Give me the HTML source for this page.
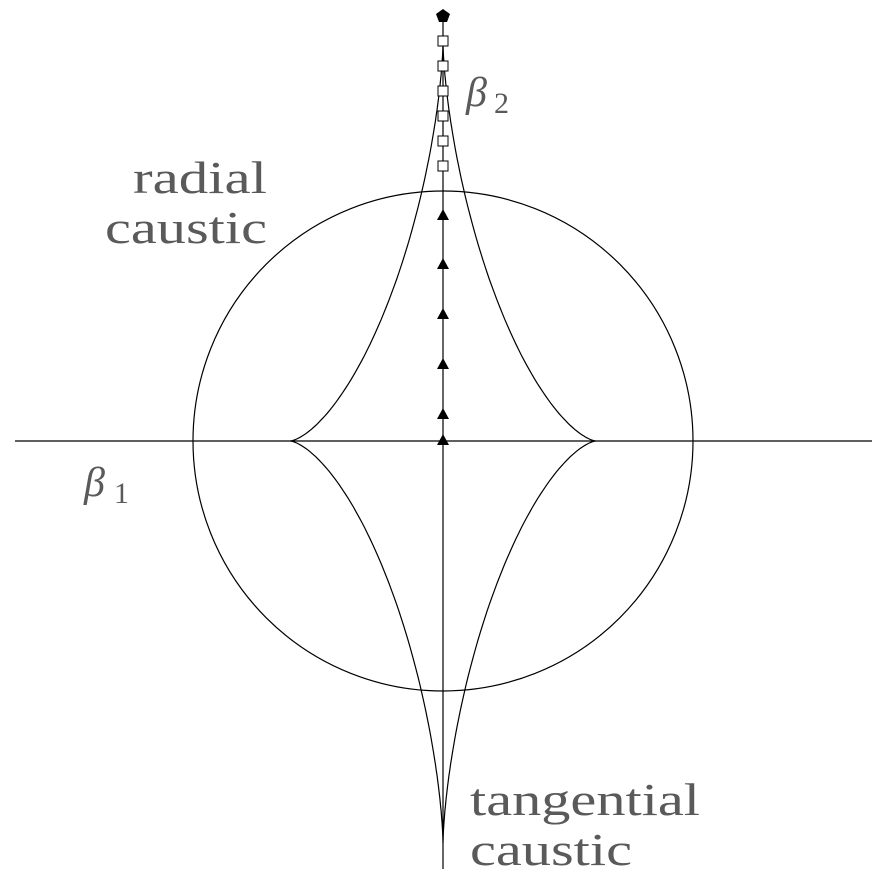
<!DOCTYPE html>
<html><head><style>
html,body{margin:0;padding:0;background:#fff;}
svg{display:block;}
text{font-family:"Liberation Serif",serif;fill:#5a5a5a;}
</style></head><body>
<svg id="s" width="880" height="880" viewBox="0 0 880 880" xmlns="http://www.w3.org/2000/svg">
<line x1="15" y1="441" x2="872" y2="441" stroke="#000" stroke-width="1.2"/>
<line x1="443" y1="16" x2="443" y2="869" stroke="#000" stroke-width="1.2"/>
<circle cx="443" cy="441" r="250" fill="none" stroke="#000" stroke-width="1.2"/>
<path id="c" fill="none" stroke="#000" stroke-width="1.2"/>
<polygon points="443,9 450,14 447,22 439,22 436,14" fill="#000"/>
<g fill="#fff" stroke="#000" stroke-width="1">
<rect x="438" y="36" width="10" height="10"/>
<rect x="438" y="61" width="10" height="10"/>
<rect x="438" y="86" width="10" height="10"/>
<rect x="438" y="111" width="10" height="10"/>
<rect x="438" y="136" width="10" height="10"/>
<rect x="438" y="161" width="10" height="10"/>
</g>
<g fill="#000">
<polygon points="443,209 449,220 437,220"/>
<polygon points="443,258 449,269 437,269"/>
<polygon points="443,308 449,319 437,319"/>
<polygon points="443,358 449,369 437,369"/>
<polygon points="443,408 449,419 437,419"/>
<polygon points="443,434 449,445 437,445"/>
</g>
<text x="133" y="193" font-size="46" textLength="134" lengthAdjust="spacingAndGlyphs">radial</text>
<text x="105" y="243" font-size="46" textLength="162" lengthAdjust="spacingAndGlyphs">caustic</text>
<text x="470" y="815" font-size="46" textLength="230" lengthAdjust="spacingAndGlyphs">tangential</text>
<text x="470" y="865" font-size="46" textLength="162" lengthAdjust="spacingAndGlyphs">caustic</text>
<text x="466" y="106" font-size="42" font-style="italic">β</text>
<text x="494" y="113" font-size="30">2</text>
<text x="84" y="496" font-size="42" font-style="italic">β</text>
<text x="114" y="503" font-size="30">1</text>
</svg>
<script>
var d="";for(var i=0;i<=400;i++){var t=i/400*2*Math.PI,c=Math.cos(t),s=Math.sin(t);
var x=443+153*Math.pow(Math.abs(c),3)*Math.sign(c);
var y=441-(s>0?398:402)*Math.pow(Math.abs(s),3)*Math.sign(s);
d+=(i?"L":"M")+x.toFixed(1)+","+y.toFixed(1);}
document.getElementById("c").setAttribute("d",d+"Z");
</script>
</body></html>
